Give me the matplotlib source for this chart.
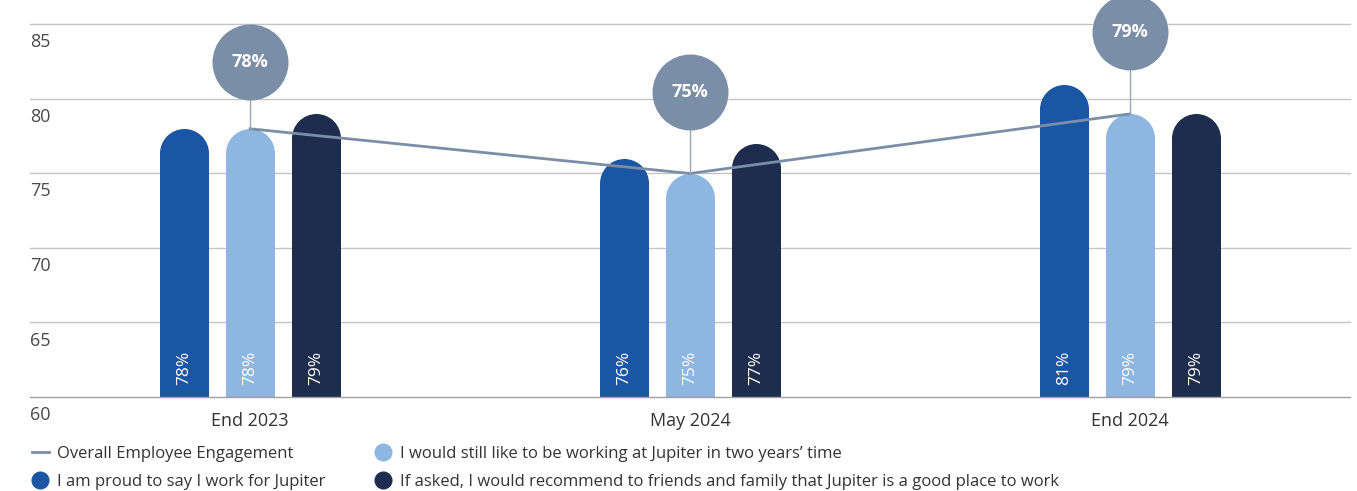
import matplotlib.pyplot as plt
from matplotlib.lines import Line2D

plt.rcParams['font.family'] = ['Open Sans', 'DejaVu Sans']

categories = ['End 2023', 'May 2024', 'End 2024']
proud = [78, 76, 81]
still_working = [78, 75, 79]
recommend = [79, 77, 79]
overall = [78, 75, 79]
bubble_lift = [4.5, 5.5, 5.5]
yticks = [60, 65, 70, 75, 80, 85]

c_proud = '#1a56a3'
c_still = '#8db6e0'
c_rec = '#1e2c4f'
c_line = '#7b8ea7'

W, H, DPI = 1357, 491, 100
fig = plt.figure(figsize=(W / DPI, H / DPI), dpi=DPI)
ax_l, ax_r, ax_b, ax_t = 30, 1350, 397, 0   # pixel box of the axes
ax = fig.add_axes([ax_l / W, (H - ax_b) / H, (ax_r - ax_l) / W, (ax_b - ax_t) / H])

px_per_y = 14.9
ymin, ymax = 60, 60 + (ax_b - ax_t) / px_per_y
px_per_x = 440
xmin = -0.5
xmax = xmin + (ax_r - ax_l) / px_per_x
ax.set_xlim(xmin, xmax)
ax.set_ylim(ymin, ymax)

for s in ax.spines.values():
    s.set_visible(False)
ax.set_xticks([])
ax.set_yticks([])

for v in yticks:
    ax.axhline(v, color='#c4c4c4' if v > 60 else '#a0a0a0', lw=1.0, zorder=0 if v > 60 else 3,
               clip_on=False)
    ax.text(xmin, v - 18 / px_per_y, str(v), ha='left', va='center',
            fontsize=13, color='#4a4a4a')

bw_px = 49
bw = bw_px / px_per_x
r = bw_px / 2 / px_per_y
cap_s = (bw_px * 72 / DPI) ** 2
offset = 66 / px_per_x

series = [(proud, c_proud, -offset), (still_working, c_still, 0), (recommend, c_rec, offset)]
for vals, col, dx in series:
    xs = [i + dx for i in range(len(categories))]
    ax.bar(xs, [v - 60 - r for v in vals], bottom=60, width=bw, color=col, zorder=2)
    ax.scatter(xs, [v - r for v in vals], s=cap_s, color=col, linewidths=0, zorder=2)
    for x, v in zip(xs, vals):
        ax.text(x, 60 + 29 / px_per_y, f'{v}%', rotation=90, ha='center', va='center',
                color='white', fontsize=12.5, zorder=3)

xs = list(range(len(categories)))
ax.plot(xs, overall, color=c_line, lw=2, zorder=4)
for x, v, lift in zip(xs, overall, bubble_lift):
    ax.plot([x, x], [v, v + lift], color='#98a8bb', lw=1, zorder=4)
    ax.scatter([x], [v + lift], s=(76 * 72 / DPI) ** 2, color=c_line, linewidths=0,
               zorder=5, clip_on=False)
    ax.text(x, v + lift, f'{v}%', ha='center', va='center', color='white',
            fontsize=13, fontweight='bold', zorder=6)

for x, lab in zip(xs, categories):
    ax.text(x, 60 - 24 / px_per_y, lab, ha='center', va='center', fontsize=13,
            color='#333333')

handles = [
    Line2D([], [], color=c_line, lw=2),
    Line2D([], [], marker='o', ls='', color=c_proud, markersize=12),
    Line2D([], [], marker='o', ls='', color=c_still, markersize=12),
    Line2D([], [], marker='o', ls='', color=c_rec, markersize=12),
]
labels = [
    'Overall Employee Engagement',
    'I am proud to say I work for Jupiter',
    'I would still like to be working at Jupiter in two years\u2019 time',
    'If asked, I would recommend to friends and family that Jupiter is a good place to work',
]
fig.legend(handles, labels, ncol=2, loc='upper left', bbox_to_anchor=(17 / W, 1 - 431 / H),
           frameon=False, fontsize=12, handlelength=1.0, handletextpad=0.5,
           columnspacing=2.95, labelspacing=0.7, labelcolor='#333333')

fig.savefig('out.png', dpi=DPI)
